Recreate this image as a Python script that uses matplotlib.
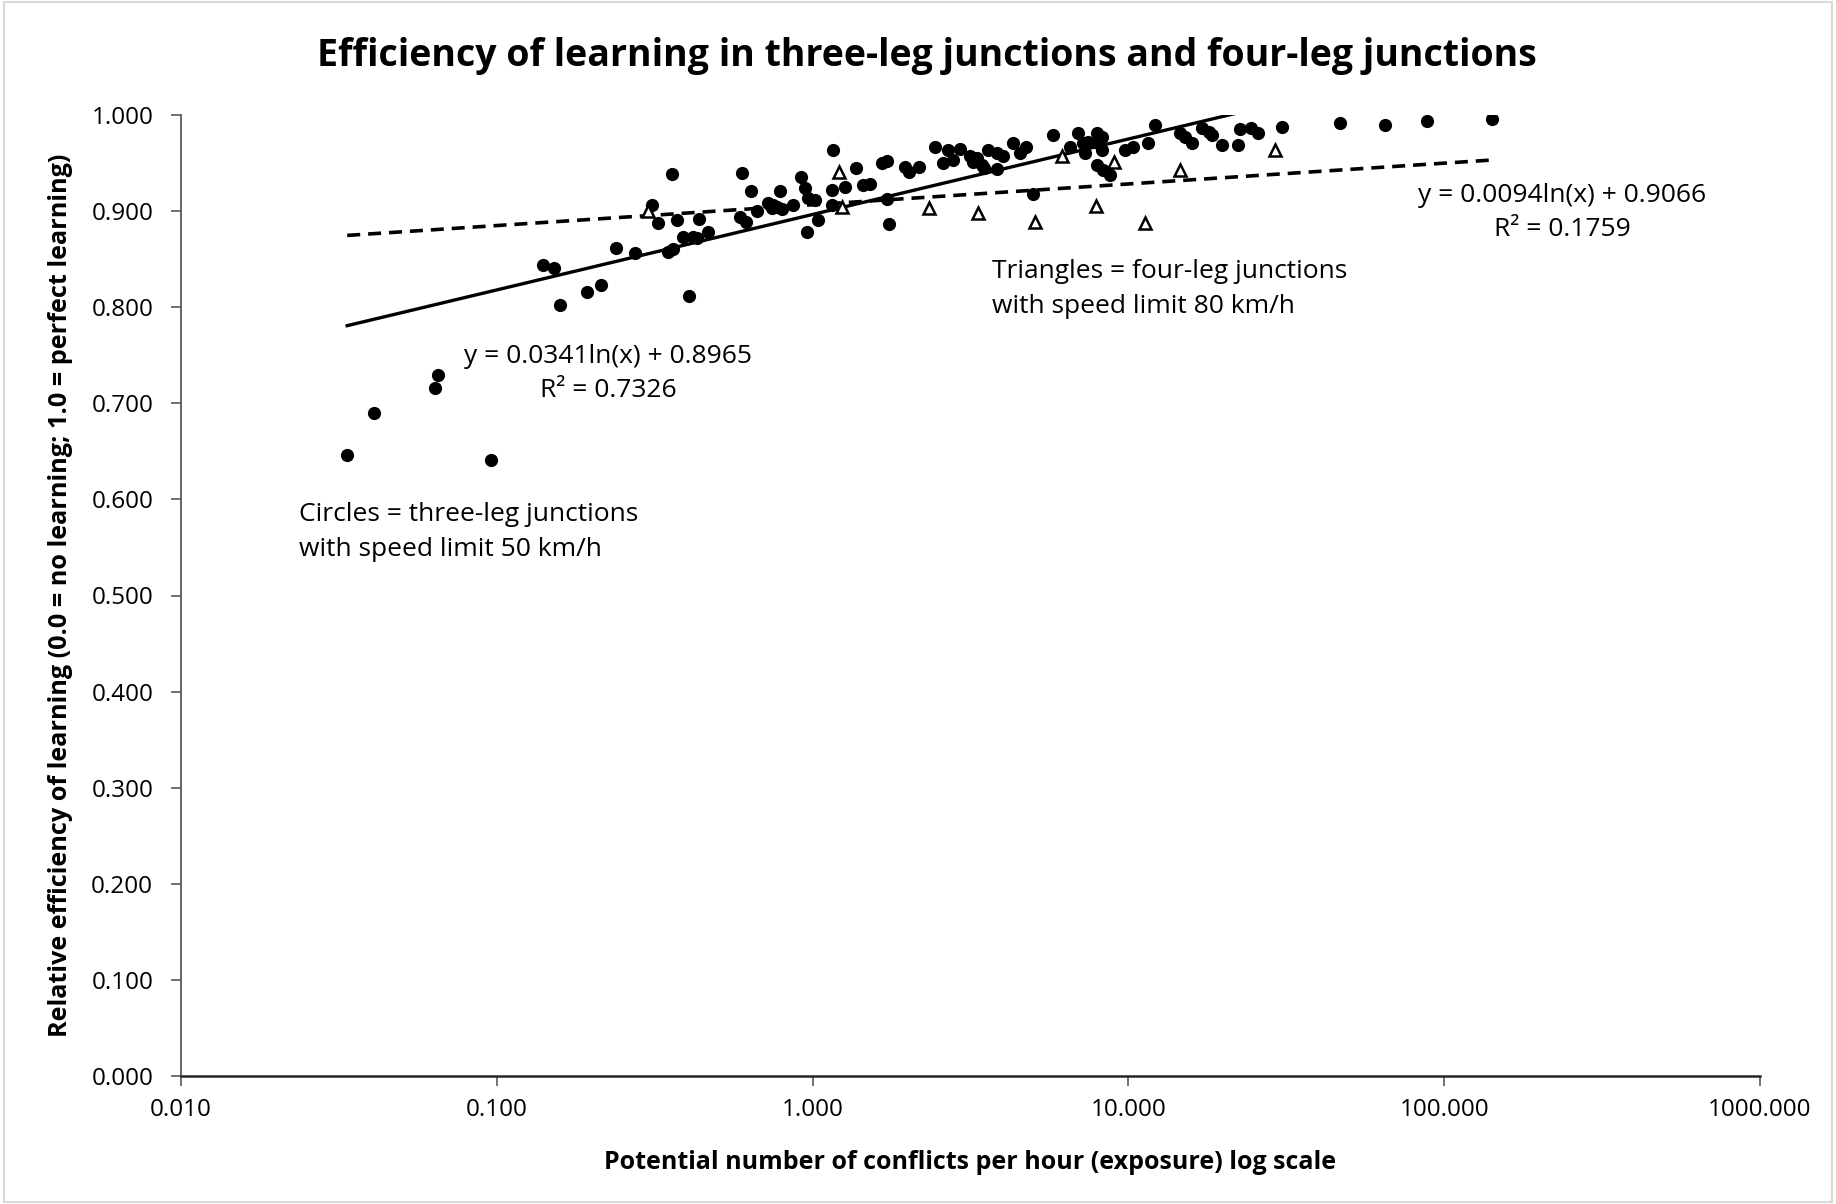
import numpy as np
import matplotlib
matplotlib.use("Agg")
import matplotlib.pyplot as plt
from matplotlib.patches import Rectangle
from matplotlib.ticker import FixedLocator, FuncFormatter, NullLocator

plt.rcParams['font.family'] = ['Open Sans', 'DejaVu Sans']

# circles = three-leg junctions, speed limit 50 km/h
x_three = [0.0336, 0.0408, 0.0637, 0.0652, 0.0960, 0.140, 0.152, 0.158, 0.193, 0.214,
           0.238, 0.274, 0.310, 0.323, 0.348, 0.361, 0.359, 0.372, 0.389, 0.407,
           0.418, 0.431, 0.436, 0.467, 0.589, 0.597, 0.615, 0.638, 0.667, 0.722,
           0.743, 0.750, 0.771, 0.789, 0.800, 0.867, 0.918, 0.946, 0.966, 1.018,
           0.959, 1.040, 1.151, 1.161, 1.151, 1.267, 1.372, 1.444, 1.520, 1.660,
           1.721, 1.721, 1.745, 1.963, 2.018, 2.173, 2.443, 2.588, 2.685, 2.784,
           2.930, 3.149, 3.221, 3.318, 3.436, 3.490, 3.590, 3.837, 3.837, 4.009,
           4.313, 4.537, 4.742, 4.989, 5.770, 6.531, 6.918, 7.179, 7.447, 7.295,
           7.959, 8.245, 8.014, 8.245, 7.959, 8.318, 8.750, 9.75, 10.35, 11.53,
           12.13, 14.56, 15.10, 15.89, 17.10, 17.99, 18.40, 19.78, 22.23, 22.55,
           24.43, 25.70, 30.62, 46.77, 65.0, 88.3, 141.6]
y_three = [0.646, 0.690, 0.716, 0.729, 0.641, 0.844, 0.841, 0.802, 0.816, 0.823,
           0.862, 0.856, 0.906, 0.888, 0.857, 0.861, 0.939, 0.891, 0.873, 0.812,
           0.873, 0.872, 0.892, 0.878, 0.894, 0.940, 0.889, 0.921, 0.900, 0.908,
           0.903, 0.906, 0.904, 0.921, 0.902, 0.906, 0.935, 0.924, 0.914, 0.912,
           0.878, 0.891, 0.922, 0.964, 0.906, 0.925, 0.945, 0.927, 0.928, 0.950,
           0.952, 0.913, 0.887, 0.946, 0.941, 0.946, 0.967, 0.950, 0.964, 0.953,
           0.965, 0.957, 0.951, 0.955, 0.948, 0.945, 0.964, 0.960, 0.944, 0.957,
           0.971, 0.960, 0.967, 0.918, 0.979, 0.967, 0.981, 0.971, 0.972, 0.960,
           0.981, 0.977, 0.971, 0.964, 0.948, 0.943, 0.938, 0.964, 0.967, 0.971,
           0.990, 0.981, 0.977, 0.971, 0.986, 0.982, 0.979, 0.969, 0.969, 0.985,
           0.986, 0.981, 0.988, 0.992, 0.990, 0.994, 0.996]

# triangles = four-leg junctions, speed limit 80 km/h
x_four = [0.301, 1.213, 1.239, 2.337, 3.341, 5.06, 6.166, 7.89, 9.00, 11.29, 14.56, 29.1]
y_four = [0.900, 0.941, 0.904, 0.903, 0.898, 0.889, 0.957, 0.905, 0.951, 0.888, 0.943, 0.964]

# log trend lines y = a*ln(x) + b
fit_three = (0.0341, 0.8965)
fit_four = (0.0094, 0.9066)
fit_range = (0.0336, 141.6)

x_ticks = [0.01, 0.1, 1, 10, 100, 1000]
y_ticks = np.arange(0, 1.01, 0.1)

fig = plt.figure(figsize=(18.36, 12.04), dpi=100)
ax = fig.add_axes([181/1836, 1 - 1076/1204, (1760-181)/1836, (1076-115)/1204])

xx = np.logspace(np.log10(fit_range[0]), np.log10(fit_range[1]), 300)
ax.plot(xx, fit_three[0]*np.log(xx) + fit_three[1], color='black', lw=2.4, zorder=2)
ax.plot(xx, fit_four[0]*np.log(xx) + fit_four[1], color='black', lw=2.6,
        dashes=(3.6, 2.2), zorder=2)

ax.plot(x_three, y_three, 'o', color='black', ms=9.5, mew=0, zorder=3)
ax.plot(x_four, y_four, '^', mfc='white', mec='black', ms=9, mew=1.8, zorder=4)

ax.set_xscale('log')
ax.set_xlim(0.01, 1000)
ax.set_ylim(0, 1)
ax.xaxis.set_major_locator(FixedLocator(x_ticks))
ax.xaxis.set_minor_locator(NullLocator())
ax.xaxis.set_major_formatter(FuncFormatter(lambda v, p: '%.3f' % v))
ax.yaxis.set_major_locator(FixedLocator(y_ticks))
ax.yaxis.set_major_formatter(FuncFormatter(lambda v, p: '%.3f' % v))

for s in ['top', 'right']:
    ax.spines[s].set_visible(False)
ax.spines['left'].set_color('#595959')
ax.spines['bottom'].set_color('#262626')
ax.spines['left'].set_linewidth(1.3)
ax.spines['bottom'].set_linewidth(1.8)
ax.tick_params(axis='both', direction='out', length=7, width=1.2, color='#595959',
               labelsize=17.5)
ax.tick_params(axis='y', pad=13)
ax.tick_params(axis='x', pad=9)

ax.set_xlabel('Potential number of conflicts per hour (exposure) log scale',
              fontsize=18, fontweight='bold', labelpad=20)
ax.set_ylabel('Relative efficiency of learning (0.0 = no learning; 1.0 = perfect learning)',
              fontsize=18.2, fontweight='bold', labelpad=13)
fig.text(0.505, 1 - 56/1204, 'Efficiency of learning in three-leg junctions and four-leg junctions',
         ha='center', va='center', fontsize=27, fontweight='bold')

note_kw = dict(va='center', fontsize=19, linespacing=1.5)
ax.text(0.225, 0.731, 'y = 0.0341ln(x) + 0.8965\nR² = 0.7326', ha='center', **note_kw)
ax.text(236, 0.8985, 'y = 0.0094ln(x) + 0.9066\nR² = 0.1759', ha='center', **note_kw)
ax.text(3.70, 0.819, 'Triangles = four-leg junctions\nwith speed limit 80 km/h', ha='left', **note_kw)
ax.text(0.0236, 0.566, 'Circles = three-leg junctions\nwith speed limit 50 km/h', ha='left', **note_kw)

fig.patches.append(Rectangle((0.002, 0.002), 0.996, 0.996, transform=fig.transFigure,
                             fill=False, edgecolor='#d9d9d9', lw=1.5))

fig.savefig('out.png', dpi=100)
